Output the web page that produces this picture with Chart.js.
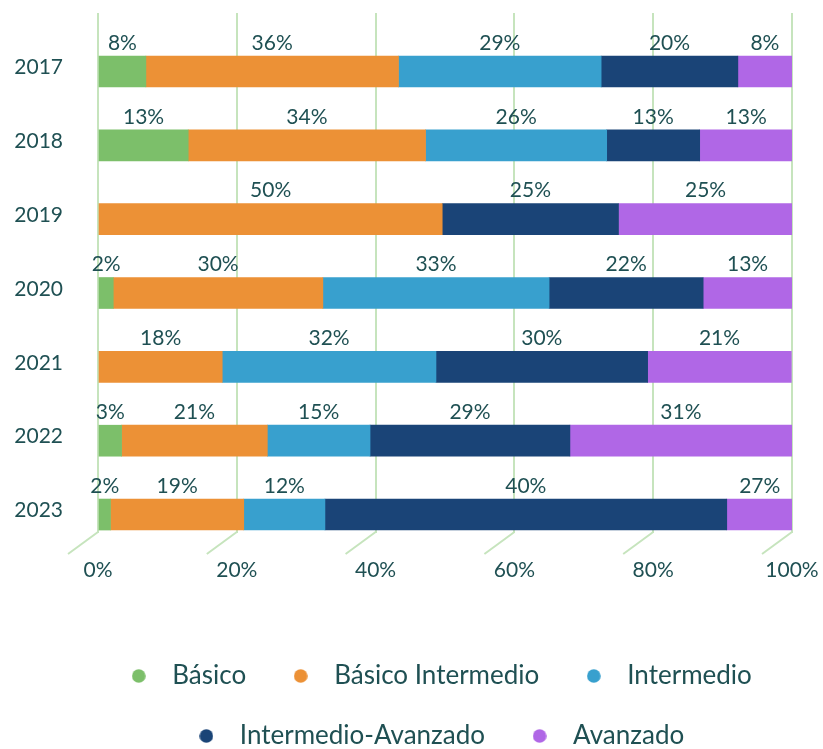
<!DOCTYPE html>
<html><head><meta charset="utf-8">
<script src="https://cdn.jsdelivr.net/npm/chart.js@4/dist/chart.umd.min.js"></script>
<style>html,body{margin:0;padding:0;background:#fff}#wrap{width:823px;height:749px;position:relative}</style>
</head><body><div id="wrap"><canvas id="c"></canvas></div>
<script>
// ---- data ----
const years = ['2017', '2018', '2019', '2020', '2021', '2022', '2023'];
const seriesNames = ['Básico', 'Básico Intermedio', 'Intermedio', 'Intermedio-Avanzado', 'Avanzado'];
// bar lengths as drawn (share of each row, %)
const basico             = [6.9, 13.0, null, 2.2, null, 3.4, 1.8];
const basicoIntermedio   = [36.4, 34.2, 49.6, 30.2, 17.9, 21.0, 19.2];
const intermedio         = [29.2, 26.1, null, 32.6, 30.8, 14.8, 11.7];
const intermedioAvanzado = [19.7, 13.4, 25.4, 22.2, 30.5, 28.8, 57.9];
const avanzado           = [7.8, 13.4, 25.1, 12.8, 20.7, 32.0, 9.5];
// percentages printed above the bars
const basicoLabels             = ['8%', '13%', null, '2%', null, '3%', '2%'];
const basicoIntermedioLabels   = ['36%', '34%', '50%', '30%', '18%', '21%', '19%'];
const intermedioLabels         = ['29%', '26%', null, '33%', '32%', '15%', '12%'];
const intermedioAvanzadoLabels = ['20%', '13%', '25%', '22%', '30%', '29%', '40%'];
const avanzadoLabels           = ['8%', '13%', '25%', '13%', '21%', '31%', '27%'];
const xTickValues = [0, 20, 40, 60, 80, 100];

// ---- styles ----
const colors = ['#7cbf6a', '#ec9136', '#38a0ce', '#1a4477', '#b067e6'];
const textColor = '#1f5053';
const gridColor = '#c6e4bd';
const FONT = 'Lato';

const seriesValues = [basico, basicoIntermedio, intermedio, intermedioAvanzado, avanzado];
const seriesLabels = [basicoLabels, basicoIntermedioLabels, intermedioLabels, intermedioAvanzadoLabels, avanzadoLabels];

function dot(color) {
  const c = document.createElement('canvas');
  c.width = 14; c.height = 14;
  const g = c.getContext('2d');
  g.fillStyle = color;
  g.beginPath(); g.arc(7, 7, 6.8, 0, Math.PI * 2); g.fill();
  return c;
}

const valueLabelPlugin = {
  id: 'valueLabels',
  afterDatasetsDraw(chart) {
    const ctx = chart.ctx;
    ctx.save();
    ctx.font = '21px ' + FONT;
    ctx.fillStyle = textColor;
    ctx.textAlign = 'center';
    ctx.textBaseline = 'middle';
    chart.data.datasets.forEach((ds, i) => {
      const meta = chart.getDatasetMeta(i);
      meta.data.forEach((bar, j) => {
        const txt = seriesLabels[i][j];
        if (!txt || ds.data[j] == null) return;
        const cx = (bar.x + bar.base) / 2;
        const top = bar.y - bar.height / 2;
        ctx.fillText(txt, cx, top - 13);
      });
    });
    ctx.restore();
  }
};

const slantTickPlugin = {
  id: 'slantTicks',
  beforeDatasetsDraw(chart) {
    const xs = chart.scales.x;
    const ctx = chart.ctx;
    const b = chart.chartArea.bottom;
    ctx.save();
    ctx.strokeStyle = gridColor;
    ctx.lineWidth = 2;
    xs.ticks.forEach(t => {
      const px = xs.getPixelForValue(t.value);
      ctx.beginPath();
      ctx.moveTo(px, b - 1);
      ctx.lineTo(px - 30, b + 21);
      ctx.stroke();
    });
    ctx.restore();
  }
};

// legend centred a little right of the canvas centre, as in the reference
const legendAlignPlugin = {
  id: 'legendAlign',
  afterLayout(chart) {
    const lg = chart.legend;
    if (!lg) return;
    lg.left = chart.chartArea.left - 51;
    lg.right = chart.width;
  }
};

new Chart(document.getElementById('c'), {
  type: 'bar',
  data: {
    labels: years,
    datasets: seriesNames.map((name, i) => ({
      label: name,
      data: seriesValues[i],
      backgroundColor: colors[i],
      borderWidth: 0,
      barThickness: 31
    }))
  },
  options: {
    indexAxis: 'y',
    responsive: true,
    maintainAspectRatio: false,
    animation: false,
    layout: { padding: { top: 13, left: 0, right: 0, bottom: -10 } },
    scales: {
      x: {
        type: 'linear',
        stacked: true,
        min: 0, max: 100,
        afterBuildTicks(s) { s.ticks = xTickValues.map(v => ({ value: v })); },
        afterFit(s) { s.height = 96; s.paddingRight = 31; s.paddingLeft = 0; },
        grid: { color: gridColor, lineWidth: 2, drawTicks: false },
        border: { display: false },
        ticks: {
          padding: 25,
          color: textColor,
          font: { family: FONT, size: 21 },
          callback: v => v + '%'
        }
      },
      y: {
        type: 'linear',
        stacked: true,
        reverse: true,
        offset: false,
        min: +years[0] - 0.792,
        max: +years[years.length - 1] + 0.25,
        afterBuildTicks(s) { s.ticks = years.map(v => ({ value: +v })); },
        afterFit(s) { s.width = 98; s.paddingTop = 0; s.paddingBottom = 0; },
        grid: { display: false, drawTicks: false, offset: false },
        border: { display: false },
        ticks: {
          padding: 35,
          labelOffset: -4,
          color: textColor,
          font: { family: FONT, size: 21 },
          callback: v => String(v)
        }
      }
    },
    plugins: {
      tooltip: { enabled: false },
      legend: {
        position: 'bottom',
        labels: {
          usePointStyle: true,
          pointStyleWidth: 41,
          padding: 34,
          color: textColor,
          font: { family: FONT, size: 26 },
          generateLabels(chart) {
            const items = Chart.defaults.plugins.legend.labels.generateLabels(chart);
            items.forEach((it, i) => { it.pointStyle = dot(colors[i]); it.fontColor = textColor; });
            return items;
          }
        }
      }
    }
  },
  plugins: [slantTickPlugin, valueLabelPlugin, legendAlignPlugin]
});
</script>
</body></html>
